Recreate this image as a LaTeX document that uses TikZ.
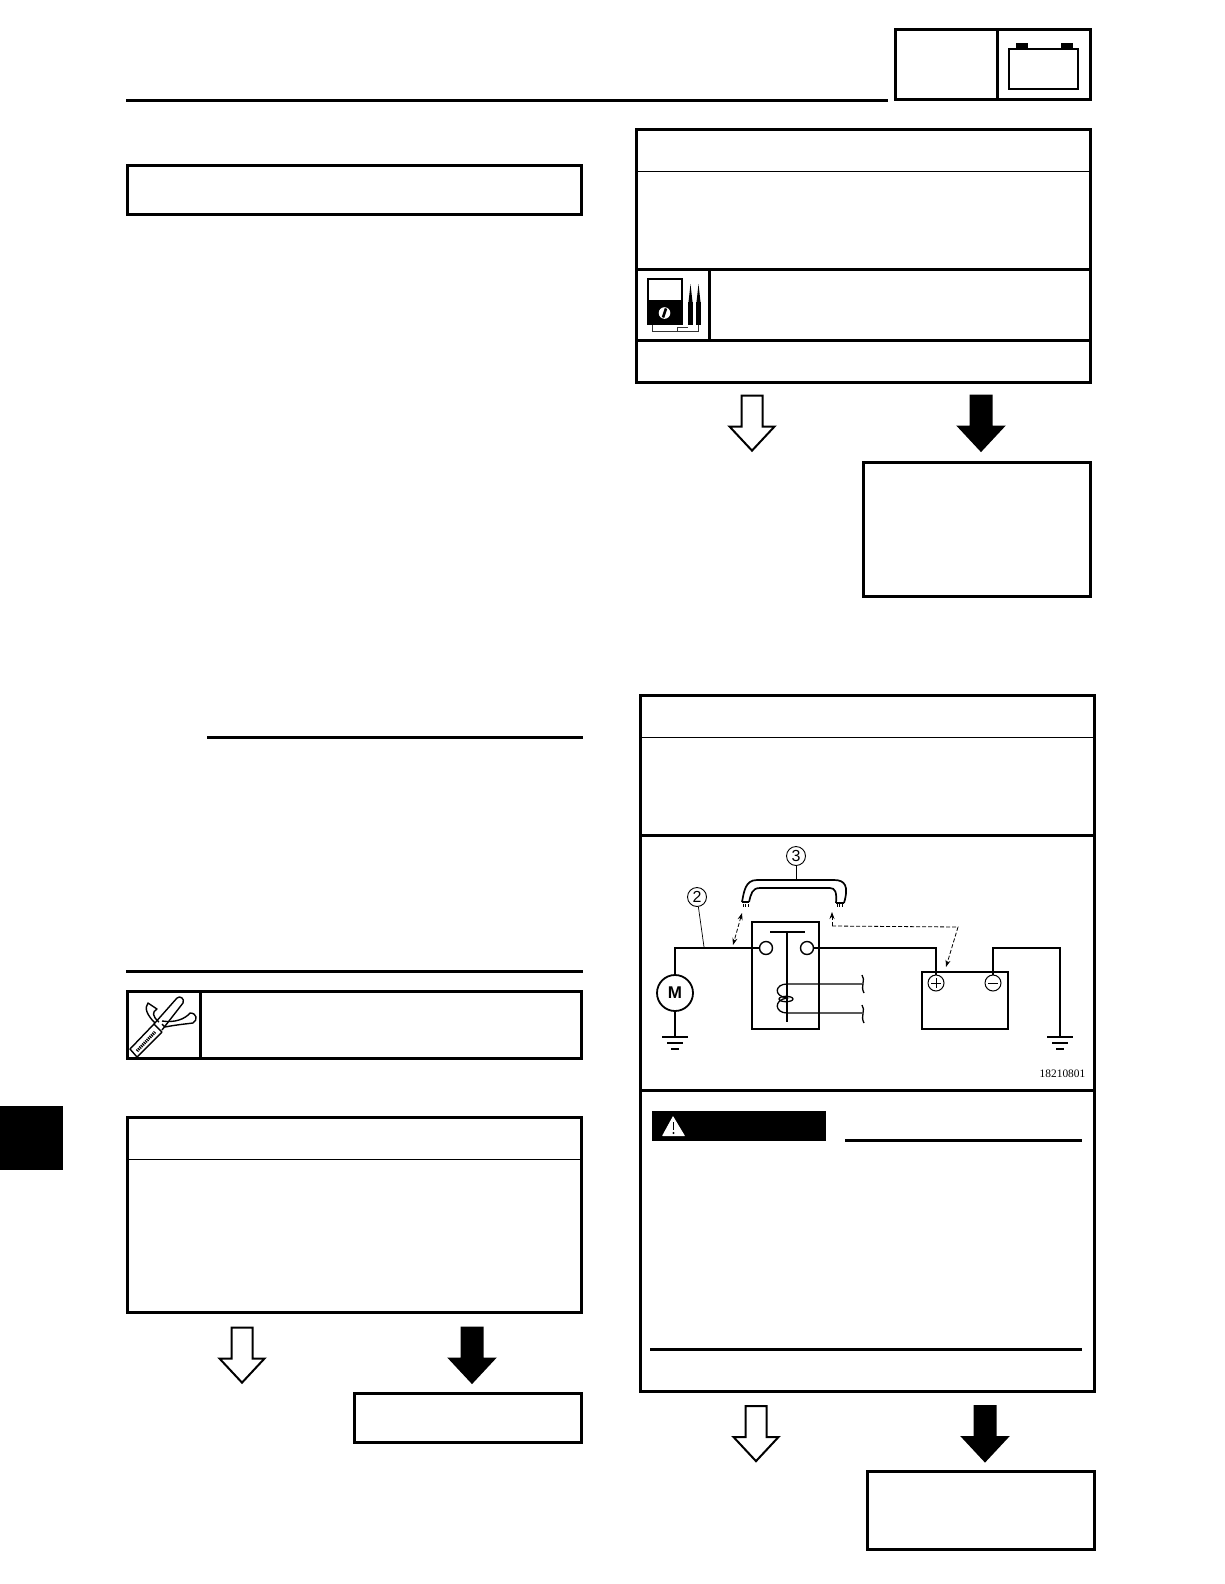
\documentclass[tikz,border=0pt]{standalone}
\usepackage{fontspec}
\setmainfont{Liberation Serif}
\setsansfont{Liberation Sans}
\usetikzlibrary{arrows.meta,shapes.arrows,calc}

\begin{document}
\begin{tikzpicture}[x=1pt,y=-1pt,
    frame/.style={draw, line width=3pt, inner sep=0pt, fill=white},
    rulethick/.style={line width=3pt},
    rulethin/.style={line width=1pt},
    goarrow/.style={single arrow, draw, shape border rotate=270, minimum height=55pt, inner sep=0pt, text width=19pt, text height=0pt, single arrow head extend=12pt, single arrow tip angle=86, line width=2pt, fill=white},
    stoparrow/.style={goarrow, fill=black},
    wire/.style={line width=1.8pt},
    part/.style={draw, line width=1.8pt, inner sep=0pt, fill=white},
    term/.style={circle, draw, line width=1.4pt, inner sep=0pt, minimum size=13pt, fill=white},
    callout/.style={circle, draw, line width=0.9pt, inner sep=0pt, minimum size=19pt, font=\sffamily\fontsize{16}{16}\selectfont},
    lead/.style={line width=0.7pt},
    move/.style={line width=0.8pt, dashed, dash pattern=on 4pt off 2pt, -{Stealth[length=7pt,width=5pt]}}
]
\useasboundingbox (0,0) rectangle (1224,1584);

% page head
\draw[rulethick] (126,101) -- (888,101);
\node[frame, minimum width=195pt, minimum height=70pt] (head) at (993,65) {};
\draw[rulethick] (head.north west) ++(103,0) coordinate (headdiv) -- (headdiv |- head.south);
\node[part, minimum width=69pt, minimum height=40pt] (batt) at (1043.5,69) {};
\fill (1016,43) rectangle (1028,49);
\fill (1061,43) rectangle (1073,49);
\fill (0,1106) rectangle (63,1170);

% left column
\node[frame, minimum width=454pt, minimum height=49pt] (boxtitle) at (354.5,189.5) {};
\draw[rulethick] (207,737) -- (583,737);
\draw[rulethick] (126,971) -- (583,971);
\node[frame, minimum width=454pt, minimum height=67pt] (boxtool) at (354.5,1024.5) {};
\draw[rulethick] (200,991) -- (200,1059);
\node[frame, minimum width=454pt, minimum height=195pt] (boxleft) at (354.5,1214.5) {};
\draw[rulethin] (127,1159) -- (583,1159);
\node[goarrow] (okleft) at (242,1349.5) {};
\node[stoparrow] (ngleft) at (472,1349.5) {};
\node[frame, minimum width=227pt, minimum height=49pt] (fixleft) at (468,1417.5) {};

% spanner icon
\draw[line width=1.4pt, line join=round] (130,1049) -- (137,1057) -- (162,1032) -- (154,1024) -- cycle;
\draw[line width=3pt, dash pattern=on 1.2pt off 0.9pt] (137,1051) -- (155,1032);
\draw[line width=1.4pt, line join=round] (154,1024) -- (177,998) .. controls (180,995) and (185,999) .. (183,1003) -- (162,1030);
\draw[line width=1.4pt, line join=round] (155,1023) .. controls (147,1015) and (144,1008) .. (148,1003) -- (157,1009) .. controls (152,1012) and (152,1016) .. (159,1022);
\draw[line width=1.4pt, line join=round] (162,1021) .. controls (175,1023) and (185,1019) .. (190,1013) .. controls (197,1013) and (198,1020) .. (193,1023) .. controls (185,1024) and (175,1025) .. (165,1027) -- (162,1024);

% right column, top
\node[frame, minimum width=454pt, minimum height=253pt] (boxtest) at (863.5,256) {};
\draw[rulethin] (636,171) -- (1092,171);
\draw[rulethick] (636,269) -- (1092,269);
\draw[rulethick] (636,340) -- (1092,340);
\draw[rulethick] (709,269) -- (709,340);
\node[goarrow] (oktest) at (752,417.5) {};
\node[stoparrow] (ngtest) at (981,417.5) {};
\node[frame, minimum width=227pt, minimum height=134pt] (fixtest) at (977,529) {};

% meter icon
\draw[line width=1.8pt] (648,279) rectangle (682,301);
\fill (647,300) rectangle (683,325);
\fill[white] (664.5,313) circle (5.8pt);
\draw[line width=2.6pt] (666,308.5) -- (663,317.5);
\draw[line width=1pt, black!80] (652,325) -- (652,331) -- (677,331) -- (677,327) -- (688,327);
\draw[line width=1pt, black!80] (677,331) -- (698,331) -- (698,325);
\fill (688,302) rectangle (693,325);
\fill (696,302) rectangle (701,325);
\fill (688.5,302) -- (690.5,284) -- (692.5,302) -- cycle;
\fill (696.5,302) -- (698.5,284) -- (700.5,302) -- cycle;

% right column, bottom
\node[frame, minimum width=454pt, minimum height=696pt] (boxjump) at (867.5,1043) {};
\draw[rulethin] (640,737) -- (1095,737);
\draw[rulethick] (640,835) -- (1095,835);
\draw[rulethick] (640,1090) -- (1095,1090);
\node[fill=black, minimum width=174pt, minimum height=30pt, inner sep=0pt] (warnbar) at (739,1126) {};
\fill[white, rounded corners=0.5pt] (673,1116) -- (685,1136) -- (662,1136) -- cycle;
\draw[line width=1.8pt] (673.5,1122) -- (673.5,1130);
\fill (673.5,1133) circle (1.1pt);
\draw[rulethick] (845,1140) -- (1082,1140);
\draw[rulethick] (650,1349) -- (1082,1349);
\node[goarrow] (okjump) at (756,1428) {};
\node[stoparrow] (ngjump) at (985,1428) {};
\node[frame, minimum width=227pt, minimum height=78pt] (fixjump) at (981,1510) {};

% circuit
\node[part, minimum width=67pt, minimum height=107pt] (relay) at (785.5,975.5) {};
\node[part, minimum width=86pt, minimum height=57pt] (cell) at (965,1000.5) {};
\node[term] (contL) at (766,948) {};
\node[term] (contR) at (807,948) {};
\node[term, minimum size=16pt, line width=1pt] (plus) at (936,983) {};
\node[term, minimum size=16pt, line width=1pt] (minus) at (993,983) {};
\draw[line width=0.9pt] (plus.center) ++(-5,0) -- ++(10,0) (plus.center) ++(0,-5) -- ++(0,10);
\draw[line width=0.9pt] (minus.center) ++(-5,0) -- ++(10,0);
\node[circle, draw, wire, inner sep=0pt, minimum size=36pt, font=\sffamily\bfseries\fontsize{17}{17}\selectfont] (motor) at (675,993) {M};
\coordinate (gndL) at (675,1037);
\coordinate (gndR) at (1060,1037);
\draw[wire] (motor.north) |- (contL.west);
\draw[wire] (motor.south) -- (gndL);
\draw[wire] (contR.east) -| (plus.north);
\draw[wire] (minus.north) -- (minus.north |- contR) -| (gndR);
\foreach \gnd in {gndL,gndR} {
  \draw[wire] ($(\gnd)+(-13,0)$) -- ($(\gnd)+(13,0)$);
  \draw[wire] ($(\gnd)+(-8,6)$) -- ($(\gnd)+(8,6)$);
  \draw[wire] ($(\gnd)+(-4,12)$) -- ($(\gnd)+(4,12)$);
}
\draw[wire] (770,932) -- (805,932);
\draw[wire] (787,932) -- (787,1022);
\draw[line width=1.3pt] (862,984) -- (787,984) .. controls (775,984) and (773,996) .. (787,998) .. controls (773,1000) and (775,1013) .. (787,1013) -- (862,1013);
\draw[line width=1.3pt] (786,999) ellipse (7pt and 2.7pt);
\draw[line width=1.3pt] (862,975) .. controls (866,980) and (860,986) .. (864,993);
\draw[line width=1.3pt] (862,1005) .. controls (866,1010) and (860,1016) .. (864,1023);

% jumper lead
\draw[line width=1.7pt] (742,902) .. controls (744,892) and (745,880) .. (757,880) -- (834,880) .. controls (845,880) and (849,886) .. (844,903);
\draw[line width=1.7pt] (749,902) .. controls (751,894) and (752,888) .. (760,888) -- (830,888) .. controls (835,888) and (837,892) .. (836,903);
\draw[line width=1.7pt] (742,902) -- (749,902) (836,903) -- (844,903);
\foreach \tx in {743,745.5,748,837,839.5,842} {
  \draw[line width=0.6pt] (\tx,904) -- (\tx,907);
}
\node[callout] (num3) at (796,856) {3};
\node[callout] (num2) at (697,897) {2};
\coordinate (lead3) at (796,880);
\coordinate (lead2) at (704,947);
\draw[lead] (num3) -- (lead3);
\draw[lead] (num2) -- (lead2);
\coordinate (jumpL) at (742,913);
\coordinate (wireL) at (733,945);
\coordinate (jumpR) at (832,912);
\coordinate (bendA) at (832,926);
\coordinate (bendB) at (958,927);
\coordinate (cellP) at (946,967);
\draw[move, {Stealth[length=7pt,width=5pt]}-{Stealth[length=7pt,width=5pt]}] (jumpL) -- (wireL);
\draw[move] (bendA) -- (jumpR);
\draw[move] (bendA) -- (bendB) -- (cellP);
\node[font=\fontsize{11.4}{11.4}\selectfont, anchor=east, inner sep=0pt] (figno) at (1085.5,1073.5) {18210801};
\end{tikzpicture}
\end{document}
